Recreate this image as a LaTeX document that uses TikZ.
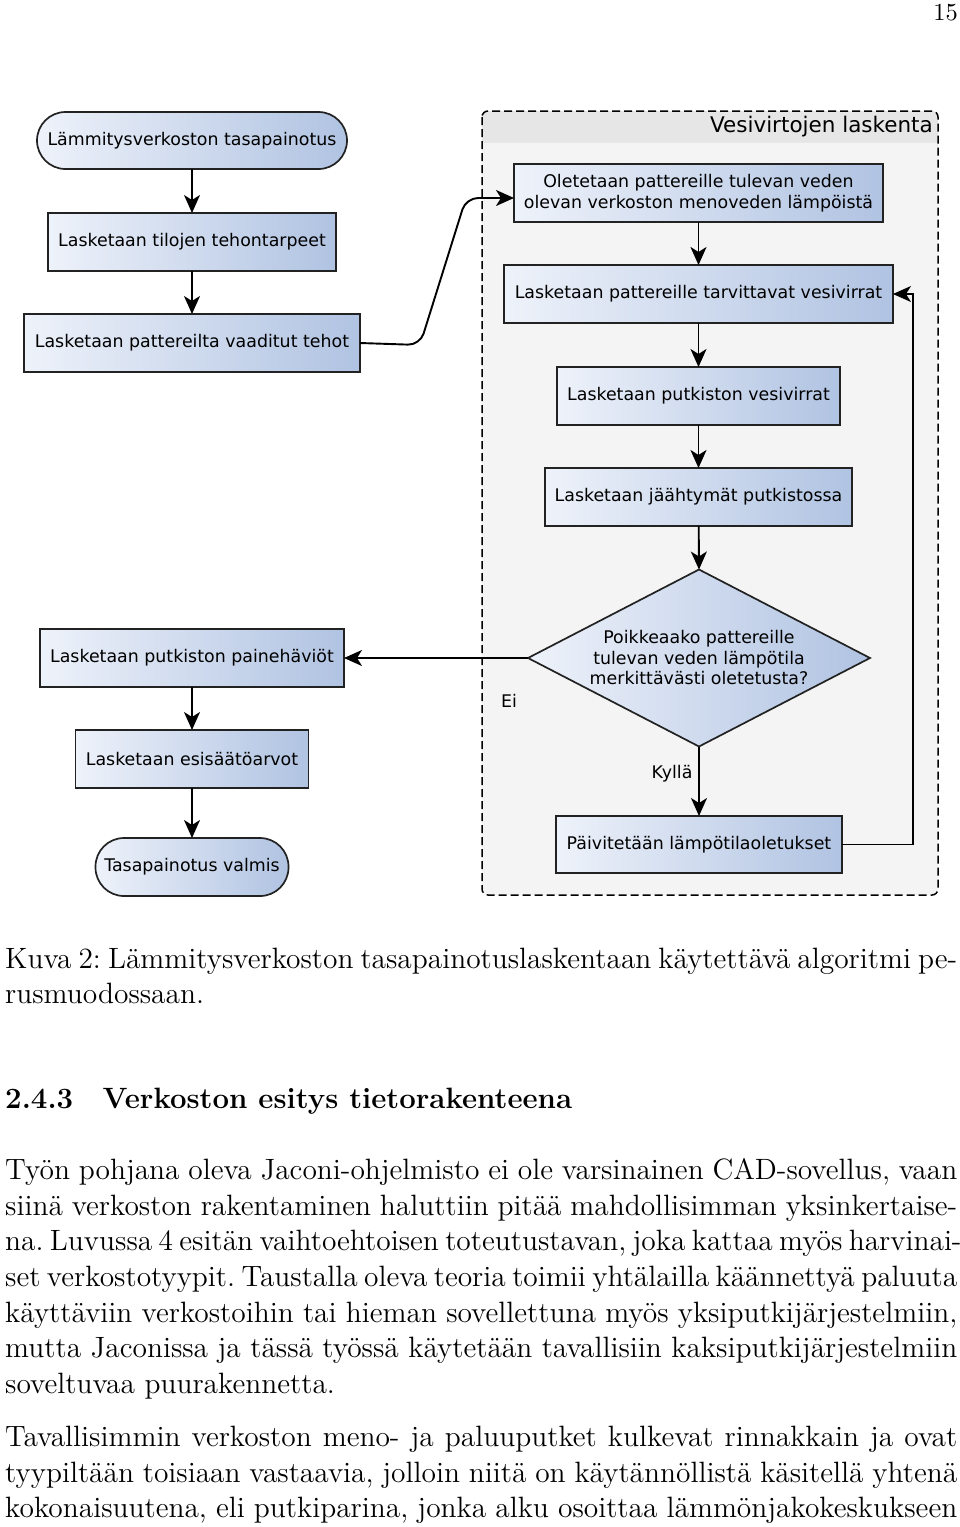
\documentclass[tikz,border=0pt]{standalone}
\usepackage{fontspec}
\newfontfamily\dv{DejaVu Sans}
\usetikzlibrary{arrows.meta,shapes.geometric}
\definecolor{boxL}{RGB}{238,242,250}
\definecolor{boxR}{RGB}{176,195,226}
\definecolor{grpfill}{RGB}{244,244,244}
\definecolor{grphead}{RGB}{230,230,230}
\definecolor{edgec}{RGB}{34,34,34}
\newcommand\mytxtj[1]{\scalebox{2.45}{\makebox[388.6pt][s]{#1}}}
\newcommand\mytxtr[1]{\scalebox{2.45}{#1}}
\begin{document}
\begin{tikzpicture}[x=1pt,y=-1pt,
 fc/.style={font=\dv\fontsize{17.4}{21}\selectfont, text=black},
 procbox/.style={fc, rectangle, draw=edgec, line width=1.7pt, left color=boxL, right color=boxR, inner sep=0pt, outer sep=0pt},
 termbox/.style={procbox, rounded corners=28.5pt},
 decbox/.style={diamond, draw=edgec, line width=1.7pt, left color=boxL, right color=boxR, inner sep=0pt, outer sep=0pt, minimum width=342pt, minimum height=177pt},
 arr/.style={draw=black, line width=1.9pt, -{Stealth[length=18pt,width=16pt,inset=5pt]}},
 fbarr/.style={draw=black, line width=1.4pt, -{Stealth[length=18pt,width=16pt,inset=5pt]}},
 bodytxt/.style={anchor=base west, inner sep=0pt, font=\fontsize{12}{14.5}\selectfont\frenchspacing},
 lbl/.style={fc, inner sep=0pt},
]
\useasboundingbox[fill=white] (0,0) rectangle (960,1527);

% page number
\node[anchor=base east, inner sep=0pt, font=\fontsize{10}{12}\selectfont] (pg) at (958,20) {\mytxtr{15}};

% group
\draw[draw=none, fill=grpfill, rounded corners=6pt] (482,111) rectangle (938,895);
\fill[grphead, rounded corners=6pt] (482,111) rectangle (938,150);
\fill[grpfill] (483,143) rectangle (937,152);
\draw[black, line width=1.5pt, dash pattern=on 8pt off 4pt, rounded corners=6pt] (482,111) rectangle (938,895);
\node[fc, font=\dv\fontsize{21.5}{25}\selectfont, anchor=east, inner sep=0pt] (gt) at (933,127) {Vesivirtojen laskenta};

% left column
\node[termbox, minimum width=310pt, minimum height=57pt] (t1) at (192,140.5) {Lämmitysverkoston tasapainotus};
\node[procbox, minimum width=288pt, minimum height=58pt] (b2) at (192,242) {Lasketaan tilojen tehontarpeet};
\node[procbox, minimum width=336pt, minimum height=58pt] (b3) at (192,343) {Lasketaan pattereilta vaaditut tehot};
\node[procbox, minimum width=304pt, minimum height=58pt] (b10) at (192,658) {Lasketaan putkiston painehäviöt};
\node[procbox, minimum width=233pt, minimum height=58pt] (b11) at (192,759) {Lasketaan esisäätöarvot};
\node[termbox, minimum width=193pt, minimum height=58pt] (t12) at (192,867) {Tasapainotus valmis};

% right column
\node[procbox, minimum width=369pt, minimum height=58pt, align=center, font=\dv\fontsize{17.4}{20.5}\selectfont] (b4) at (698.5,193) {Oletetaan pattereille tulevan veden\\olevan verkoston menoveden lämpöistä};
\node[procbox, minimum width=389pt, minimum height=58pt] (b5) at (698.5,294) {Lasketaan pattereille tarvittavat vesivirrat};
\node[procbox, minimum width=283pt, minimum height=58pt] (b6) at (698.5,396) {Lasketaan putkiston vesivirrat};
\node[procbox, minimum width=307pt, minimum height=58pt] (b7) at (698.5,497) {Lasketaan jäähtymät putkistossa};
\node[decbox] (d) at (699,658) {};
\node[fc, align=center, inner sep=0pt, font=\dv\fontsize{17.4}{20.5}\selectfont] (dt) at (699,658) {Poikkeaako pattereille\\tulevan veden lämpötila\\merkittävästi oletetusta?};
\node[procbox, minimum width=286pt, minimum height=57pt] (b9) at (699,844.5) {Päivitetään lämpötilaoletukset};

% labels
\node[lbl] (ei) at (509,701) {Ei};
\node[lbl] (ky) at (672,774) {Kyllä};

% connectors
\draw[arr] (t1) -- (b2);
\draw[arr] (b2) -- (b3);
\draw[arr] (b10) -- (b11);
\draw[arr] (b11) -- (t12);
\draw[arr] (b4) -- (b5);
\draw[arr] (b5) -- (b6);
\draw[arr] (b6) -- (b7);
\draw[arr] (b7) -- (d.north);
\draw[arr] (d.south) -- (b9);
\draw[arr] (d.west) -- (b10.east);
\coordinate (c1) at (420,345);
\coordinate (c2) at (466,198);
\draw[arr, rounded corners=12pt] (b3.east) -- (c1) -- (c2) -- ([yshift=-5pt]b4.west);
\coordinate (fbc) at (913,570);
\draw[fbarr] (b9.east) -| (fbc) |- (b5.east);

% caption
\node[bodytxt] (cap1) at (5,968) {\mytxtj{Kuva 2: Lämmitysverkoston tasapainotuslaskentaan käytettävä algoritmi pe-}};
\node[bodytxt] (cap2) at (5,1003) {\mytxtr{rusmuodossaan.}};

% heading
\node[bodytxt, font=\fontsize{12}{14.5}\selectfont\bfseries] (hd) at (5,1108) {\mytxtr{2.4.3\hspace{1em}Verkoston esitys tietorakenteena}};

% paragraph 1
\node[bodytxt] (p1) at (5,1179) {\mytxtj{Työn pohjana oleva Jaconi-ohjelmisto ei ole varsinainen CAD-sovellus, vaan}};
\node[bodytxt] (p2) at (5,1215) {\mytxtj{siinä verkoston rakentaminen haluttiin pitää mahdollisimman yksinkertaise-}};
\node[bodytxt] (p3) at (5,1250) {\mytxtj{na. Luvussa 4 esitän vaihtoehtoisen toteutustavan, joka kattaa myös harvinai-}};
\node[bodytxt] (p4) at (5,1286) {\mytxtj{set verkostotyypit. Taustalla oleva teoria toimii yhtälailla käännettyä paluuta}};
\node[bodytxt] (p5) at (5,1322) {\mytxtj{käyttäviin verkostoihin tai hieman sovellettuna myös yksiputkijärjestelmiin,}};
\node[bodytxt] (p6) at (5,1357) {\mytxtj{mutta Jaconissa ja tässä työssä käytetään tavallisiin kaksiputkijärjestelmiin}};
\node[bodytxt] (p7) at (5,1393) {\mytxtr{soveltuvaa puurakennetta.}};

% paragraph 2
\node[bodytxt] (q1) at (5,1446) {\mytxtj{Tavallisimmin verkoston meno- ja paluuputket kulkevat rinnakkain ja ovat}};
\node[bodytxt] (q2) at (5,1482) {\mytxtj{tyypiltään toisiaan vastaavia, jolloin niitä on käytännöllistä käsitellä yhtenä}};
\node[bodytxt] (q3) at (5,1517) {\mytxtj{kokonaisuutena, eli putkiparina, jonka alku osoittaa lämmönjakokeskukseen}};
\end{tikzpicture}
\end{document}
